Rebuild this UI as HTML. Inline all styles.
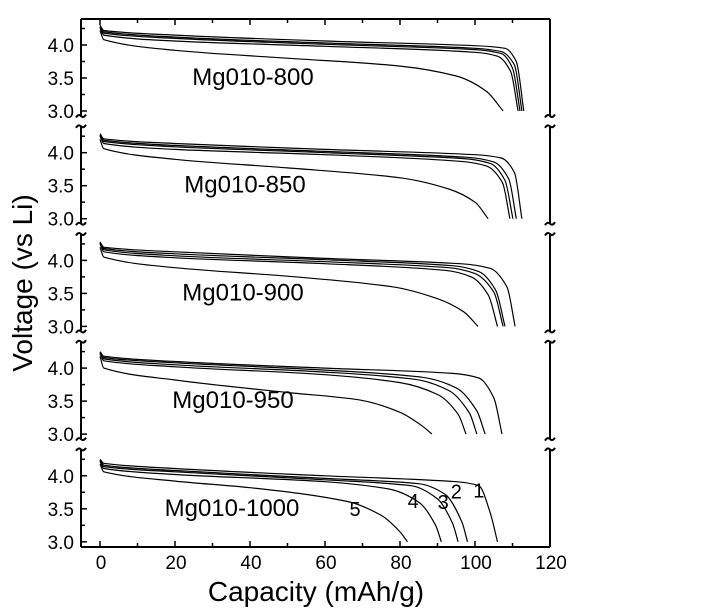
<!DOCTYPE html>
<html><head><meta charset="utf-8"><style>
html,body{margin:0;padding:0;background:#fff;}
svg{display:block;font-family:"Liberation Sans",Arial,sans-serif;}
</style></head><body>
<svg id="chart" width="722" height="609" viewBox="0 0 722 609" xmlns="http://www.w3.org/2000/svg">
<g id="axes"></g>
<g id="curves"></g>
<g id="labels"></g>
<text x="0" y="0" transform="translate(32,283) rotate(-90)" text-anchor="middle" font-size="28">Voltage (vs Li)</text>
<text x="316" y="601" text-anchor="middle" font-size="28">Capacity (mAh/g)</text>
</svg>
<script>
const panelNames = ["Mg010-800","Mg010-850","Mg010-900","Mg010-950","Mg010-1000"];
const panelLabelX = [253,245,243,233,232];
const xTicks = [0,20,40,60,80,100,120];
const yTicks = [3.0,3.5,4.0];
const panel800 = [
 [[0,1,20,60,100,108,111,113],[4.30,4.22,4.15,4.06,3.99,3.95,3.75,3.0]],
 [[0,1,20,60,100,107,110.5,112.5],[4.28,4.20,4.12,4.03,3.95,3.90,3.70,3.0]],
 [[0,1,20,60,100,107,110,112],[4.27,4.18,4.10,4.01,3.93,3.87,3.65,3.0]],
 [[0,1,20,60,100,106,109.5,111.5],[4.26,4.15,4.06,3.98,3.89,3.83,3.60,3.0]],
 [[0,1,20,50,80,95,103,107.5],[4.22,4.08,3.92,3.80,3.68,3.53,3.30,3.0]]
];
const panel850 = [
 [[0,1,20,60,100,107,110.5,112.5],[4.29,4.21,4.14,4.05,3.97,3.92,3.70,3.0]],
 [[0,1,20,60,98,105,109,111],[4.27,4.19,4.11,4.02,3.93,3.86,3.60,3.0]],
 [[0,1,20,60,97,104,108,110.1],[4.26,4.17,4.09,4.00,3.91,3.84,3.58,3.0]],
 [[0,1,20,60,96,103,107.3,109.3],[4.25,4.14,4.05,3.97,3.87,3.80,3.55,3.0]],
 [[0,1,20,50,80,93,100,103.5],[4.20,4.06,3.90,3.77,3.62,3.45,3.25,3.0]]
];
const panel900 = [
 [[0,1,20,60,96,104,108.5,110.7],[4.28,4.20,4.13,4.03,3.95,3.88,3.60,3.0]],
 [[0,1,20,60,94,101,105.5,108],[4.27,4.18,4.10,4.01,3.92,3.83,3.55,3.0]],
 [[0,1,20,60,93,100,105,107.5],[4.26,4.16,4.07,3.98,3.89,3.80,3.52,3.0]],
 [[0,1,20,60,92,99,103.5,106],[4.25,4.13,4.04,3.95,3.85,3.75,3.48,3.0]],
 [[0,1,20,50,78,90,97,100.8],[4.20,4.05,3.89,3.76,3.60,3.42,3.22,3.0]]
];
const panel950 = [
 [[0,1,20,60,94,101,105,107.2],[4.25,4.18,4.10,4.00,3.92,3.85,3.55,3.0]],
 [[0,1,20,60,86,95,100.5,102.7],[4.24,4.16,4.08,3.97,3.86,3.70,3.35,3.0]],
 [[0,1,20,60,84,93,98.5,100.5],[4.23,4.14,4.05,3.94,3.83,3.66,3.32,3.0]],
 [[0,1,20,60,80,90,95.5,97.6],[4.22,4.11,4.02,3.90,3.78,3.60,3.30,3.0]],
 [[0,1,20,50,69,80,86,88.5],[4.18,4.00,3.82,3.63,3.52,3.33,3.12,3.0]]
];
const panel1000 = [
 [[0,1,20,60,95,101,104,106],[4.25,4.19,4.11,4.00,3.91,3.85,3.45,3.0]],
 [[0,1,20,60,85,92,96.5,98],[4.24,4.16,4.08,3.96,3.88,3.72,3.30,3.0]],
 [[0,1,20,60,83,90,94,95.5],[4.23,4.14,4.06,3.94,3.85,3.65,3.28,3.0]],
 [[0,1,20,60,77,85,89.5,91],[4.22,4.11,4.02,3.91,3.80,3.60,3.25,3.0]],
 [[0,1,20,40,66,75,80,82],[4.18,4.06,3.92,3.82,3.61,3.40,3.15,3.0]]
];
const panels = [panel800,panel850,panel900,panel950,panel1000];
const curveNums = ["1","2","3","4","5"];
const curveNumPos = [[101,3.78],[95,3.76],[91.5,3.60],[83.5,3.62],[68,3.50]];

const NS="http://www.w3.org/2000/svg";
const X0=100, XS=3.75, LEFT=81, RIGHT=550;
function sx(c){return X0+c*XS;}
function base(i){return 111+i*107.7;}
function sy(i,v){return base(i)-(v-3)*66;}
function panelTop(i){return i===0?19:sy(i,4.4);}
function panelBot(i){return i===4?547:base(i)+5;}
function mk(tag,attrs,parent){const e=document.createElementNS(NS,tag);for(const k in attrs)e.setAttribute(k,attrs[k]);parent.appendChild(e);return e;}
const axes=document.getElementById('axes'), curves=document.getElementById('curves'), labels=document.getElementById('labels');
const st={stroke:"#000","stroke-width":2,fill:"none"};
let e=mk('line',Object.assign({x1:LEFT,y1:19,x2:RIGHT,y2:19},st),axes);


e=mk('line',Object.assign({x1:LEFT,y1:547,x2:RIGHT,y2:547},st),axes);


xTicks.forEach((t,k)=>{
  const x=sx(t);
  mk('line',{x1:x,y1:547,x2:x,y2:541,stroke:"#000","stroke-width":1.5},axes);
  mk('line',{x1:x,y1:19,x2:x,y2:25,stroke:"#000","stroke-width":1.5},axes);
  if(k<xTicks.length-1){const m=sx(t+10);
    mk('line',{x1:m,y1:547,x2:m,y2:543,stroke:"#000","stroke-width":1.5},axes);
    mk('line',{x1:m,y1:19,x2:m,y2:23,stroke:"#000","stroke-width":1.5},axes);}
  const tx=mk('text',{x:x+1,y:569,"text-anchor":"middle","font-size":19},axes);
  tx.textContent=t;
  
  
});
function tilde(x,y){mk('path',{d:`M${x-5},${y+1.5} q2.5,-4 5,-1.5 q2.5,2.5 5,-1.5`,stroke:"#000","stroke-width":2,fill:"none"},axes);}
function smooth(pts){
  const n=pts.length, d=[], m=[];
  for(let i=0;i<n-1;i++) d.push((pts[i+1][1]-pts[i][1])/(pts[i+1][0]-pts[i][0]));
  m[0]=d[0]; m[n-1]=d[n-2];
  for(let i=1;i<n-1;i++){ m[i]=(d[i-1]*d[i]<=0)?0:(2/(1/d[i-1]+1/d[i])); }
  let s=`M${pts[0][0].toFixed(1)},${pts[0][1].toFixed(1)}`;
  for(let i=0;i<n-1;i++){
    const h=pts[i+1][0]-pts[i][0];
    s+=` C${(pts[i][0]+h/3).toFixed(1)},${(pts[i][1]+m[i]*h/3).toFixed(1)} ${(pts[i+1][0]-h/3).toFixed(1)},${(pts[i+1][1]-m[i+1]*h/3).toFixed(1)} ${pts[i+1][0].toFixed(1)},${pts[i+1][1].toFixed(1)}`;
  }
  return s;
}
panels.forEach((pan,i)=>{
  const top=panelTop(i), bot=panelBot(i);
  e=mk('line',Object.assign({x1:LEFT,y1:top,x2:LEFT,y2:bot},st),axes);
  
  
  e=mk('line',Object.assign({x1:RIGHT,y1:top,x2:RIGHT,y2:bot},st),axes);
  
  
  if(i<4){tilde(LEFT,bot);tilde(RIGHT,bot);}
  if(i>0){tilde(LEFT,top);tilde(RIGHT,top);}
  yTicks.forEach(v=>{
    const y=sy(i,v);
    mk('line',{x1:LEFT,y1:y,x2:LEFT+6,y2:y,stroke:"#000","stroke-width":1.5},axes);
    const m=sy(i,v+0.25);
    mk('line',{x1:LEFT,y1:m,x2:LEFT+4,y2:m,stroke:"#000","stroke-width":1.5},axes);
    const tx=mk('text',{x:LEFT-7,y:y+7,"text-anchor":"end","font-size":19},axes);
    tx.textContent=v.toFixed(1);
    
    
  });
  pan.forEach((c,j)=>{
    const pts=c[0].map((cap,k)=>[sx(cap),sy(i,c[1][k])]);
    const p=mk('path',{d:smooth(pts),stroke:"#000","stroke-width":1.2,fill:"none"},curves);
    
    
  });
  const lb=mk('text',{x:panelLabelX[i],y:sy(i,3.5)+7,"text-anchor":"middle","font-size":24},labels);
  lb.textContent=panelNames[i];
  
  
});
curveNums.forEach((n,k)=>{
  const t=mk('text',{x:sx(curveNumPos[k][0]),y:sy(4,curveNumPos[k][1])+7,"text-anchor":"middle","font-size":20},labels);
  t.textContent=n;
  
  
});
</script>
</body></html>
